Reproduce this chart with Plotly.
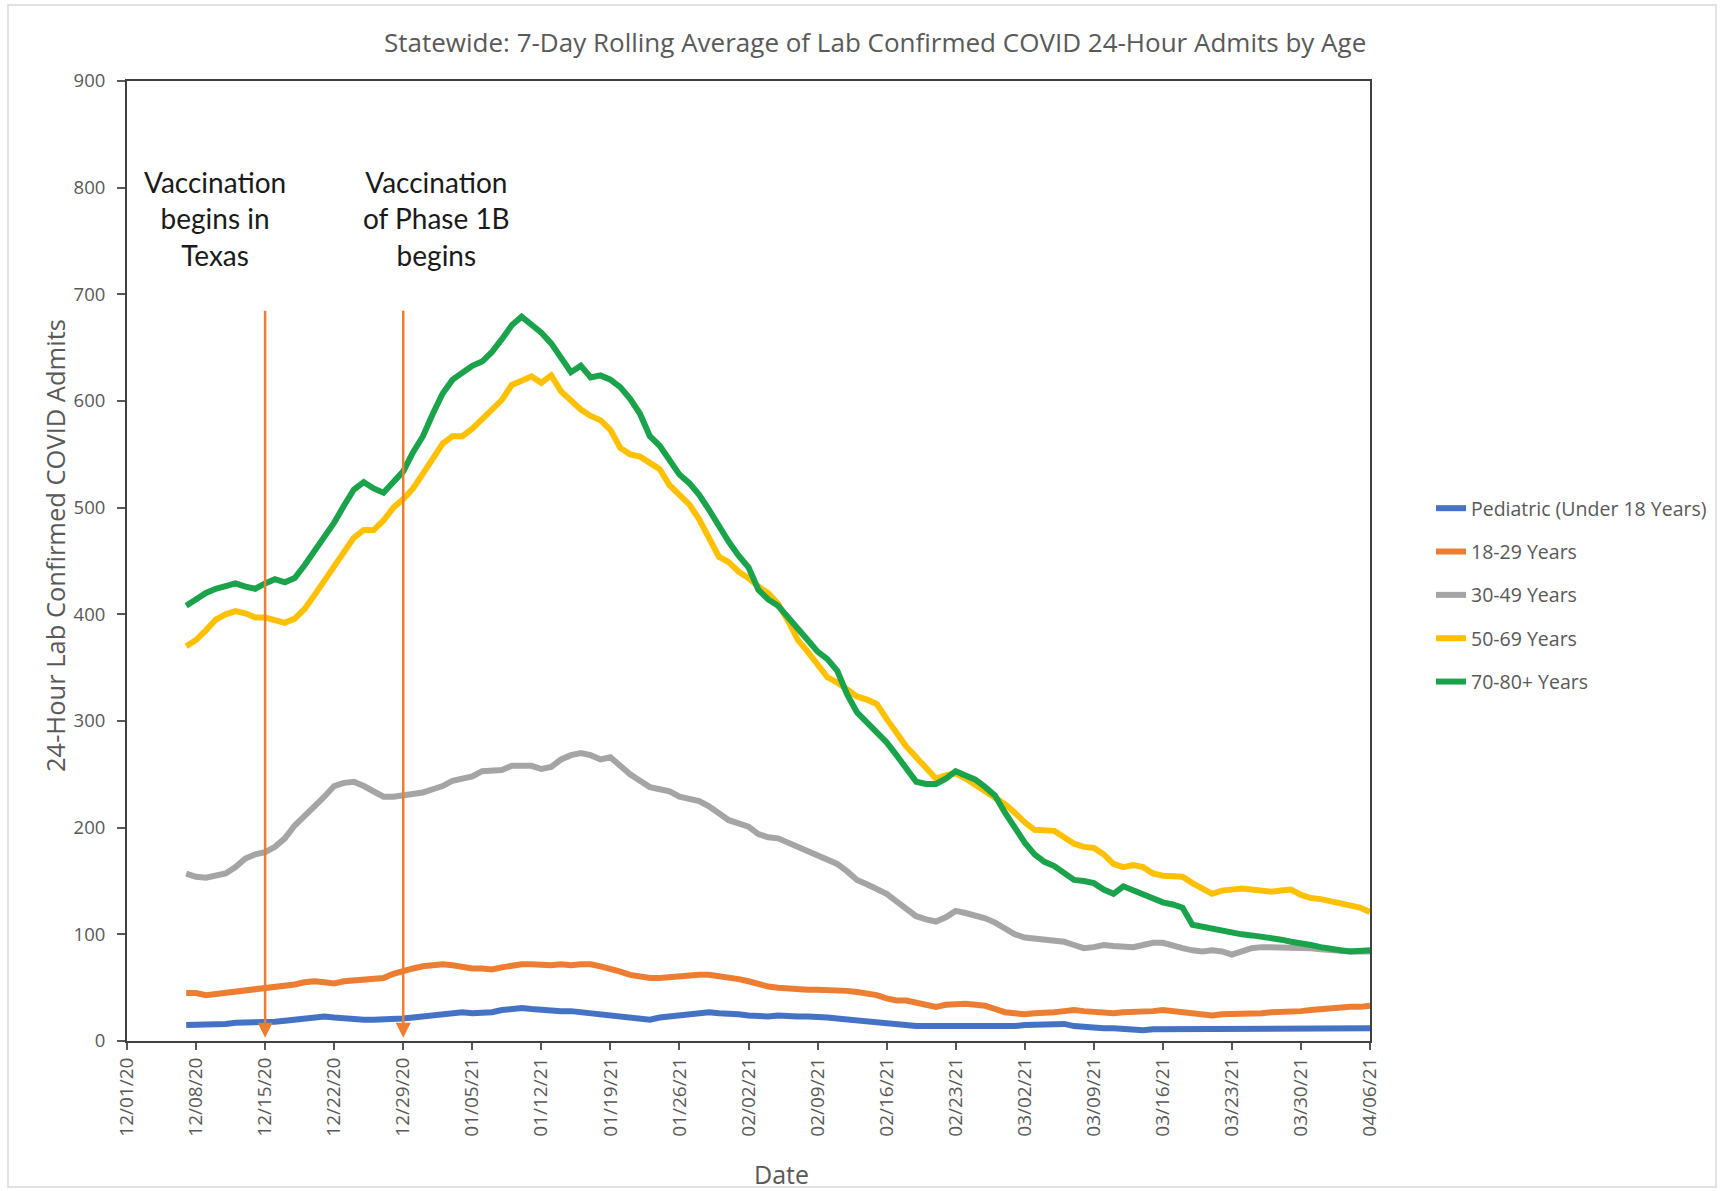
import plotly.graph_objects as go
import pandas as pd

# ---------------- data ----------------
first_date = "2020-12-07"
last_date = "2021-04-06"
dates = pd.date_range(first_date, last_date, freq="D").strftime("%Y-%m-%d").tolist()

series_names = ["Pediatric (Under 18 Years)", "18-29 Years", "30-49 Years", "50-69 Years", "70-80+ Years"]

pediatric = [15, 15, 16, 16, 16, 17, 17, 17, 17, 18,
             19, 20, 21, 22, 23, 22, 21, 21, 20, 20,
             20, 20, 21, 22, 23, 24, 25, 26, 27, 26,
             26, 27, 29, 30, 31, 30, 29, 29, 28, 28,
             27, 26, 25, 24, 23, 21, 20, 20, 22, 23,
             25, 26, 27, 27, 26, 26, 25, 24, 23, 23,
             24, 23, 23, 23, 23, 22, 21, 20, 19, 19,
             18, 17, 15, 14, 14, 14, 14, 14, 14, 14,
             14, 13, 13, 14, 14, 15, 15, 15, 15, 16,
             14, 13, 12, 12, 12, 11, 11, 10, 11, 11,
             12, 12, 12, 12, 12, 12, 12, 12, 12, 12,
             12, 12, 12, 12, 12, 12, 12, 12, 12, 12,
             12]

age_18_29 = [45, 45, 43, 44, 46, 47, 47, 48, 50, 51,
             52, 53, 55, 56, 55, 54, 56, 57, 58, 59,
             59, 63, 66, 68, 70, 71, 72, 71, 69, 68,
             68, 67, 69, 71, 72, 72, 71, 71, 72, 71,
             72, 72, 70, 68, 65, 62, 60, 59, 59, 60,
             61, 62, 62, 62, 61, 60, 58, 56, 53, 51,
             50, 49, 48, 48, 48, 48, 47, 47, 46, 45,
             43, 40, 38, 38, 36, 34, 32, 34, 35, 35,
             34, 33, 30, 27, 26, 25, 26, 26, 27, 28,
             29, 28, 27, 27, 26, 27, 27, 27, 28, 29,
             28, 27, 26, 25, 24, 25, 25, 26, 26, 26,
             27, 27, 28, 28, 29, 30, 31, 31, 32, 32,
             33]

age_30_49 = [157, 154, 153, 155, 157, 163, 171, 175, 177, 182,
             190, 202, 212, 220, 229, 239, 242, 243, 239, 234,
             229, 229, 230, 232, 233, 236, 239, 244, 246, 248,
             253, 253, 254, 258, 258, 258, 255, 257, 264, 268,
             270, 268, 264, 266, 258, 250, 244, 238, 236, 234,
             229, 227, 225, 220, 214, 207, 204, 201, 194, 191,
             190, 186, 182, 178, 174, 170, 166, 159, 151, 147,
             143, 138, 131, 124, 117, 114, 112, 116, 122, 120,
             118, 115, 111, 106, 100, 97, 96, 96, 94, 93,
             90, 87, 88, 90, 89, 88, 88, 90, 92, 92,
             89, 87, 85, 84, 85, 84, 81, 84, 87, 88,
             88, 88, 88, 88, 87, 86, 85, 84, 84, 84,
             84]

age_50_69 = [370, 376, 385, 395, 400, 403, 401, 397, 397, 395,
             392, 396, 405, 418, 432, 445, 460, 472, 479, 479,
             488, 500, 508, 518, 532, 545, 560, 567, 567, 574,
             584, 592, 601, 615, 619, 623, 617, 624, 609, 600,
             592, 586, 582, 573, 556, 550, 548, 542, 536, 521,
             512, 503, 489, 470, 454, 449, 440, 434, 426, 420,
             410, 394, 376, 365, 352, 341, 336, 329, 323, 320,
             316, 302, 289, 276, 266, 256, 246, 249, 251, 246,
             240, 235, 228, 222, 214, 205, 198, 197, 197, 191,
             185, 182, 181, 175, 166, 163, 165, 163, 157, 155,
             155, 154, 148, 143, 138, 141, 142, 143, 142, 141,
             140, 141, 142, 137, 134, 133, 131, 129, 128, 125,
             121]

age_70_80 = [408, 414, 420, 424, 426, 429, 426, 424, 429, 433,
             430, 434, 446, 459, 472, 486, 502, 517, 524, 518,
             514, 524, 534, 552, 567, 588, 607, 620, 627, 633,
             637, 646, 658, 671, 679, 672, 664, 654, 641, 627,
             633, 622, 624, 620, 613, 602, 588, 567, 558, 545,
             531, 523, 512, 498, 482, 468, 455, 444, 423, 414,
             408, 398, 387, 376, 365, 358, 347, 325, 308, 299,
             290, 280, 268, 256, 243, 241, 241, 246, 253, 249,
             245, 238, 230, 214, 199, 186, 175, 168, 164, 157,
             151, 150, 148, 142, 138, 145, 141, 138, 134, 130,
             128, 125, 109, 107, 106, 104, 101, 100, 99, 98,
             96, 95, 93, 92, 90, 88, 86, 85, 84, 85,
             85]

series_values = [pediatric, age_18_29, age_30_49, age_50_69, age_70_80]
series_colors = ["#4472C4", "#ED7D31", "#A5A5A5", "#FFC000", "#1AA34A"]

tick_labels = ["12/01/20", "12/08/20", "12/15/20", "12/22/20", "12/29/20", "01/05/21",
               "01/12/21", "01/19/21", "01/26/21", "02/02/21", "02/09/21", "02/16/21",
               "02/23/21", "03/02/21", "03/09/21", "03/16/21", "03/23/21", "03/30/21",
               "04/06/21"]
tick_vals = pd.to_datetime(tick_labels, format="%m/%d/%y").strftime("%Y-%m-%d").tolist()

event_dates = ["2020-12-15", "2020-12-29"]
event_texts = ["Vaccination<br>begins in<br>Texas", "Vaccination<br>of Phase 1B<br>begins"]
event_arrow_top = 686

title_text = "Statewide: 7-Day Rolling Average of Lab Confirmed COVID 24-Hour Admits by Age"
y_title = "24-Hour Lab Confirmed COVID Admits"
x_title = "Date"

# ---------------- layout geometry (pixels) ----------------
W, H = 1721, 1191
ML, MR, MT, MB = 127, 351, 81, 150
PW, PH = W - ML - MR, H - MT - MB


def px_x(p):
    return (p - ML) / PW


def px_y(p):
    return (H - MB - p) / PH


GRAY_TXT = "#595959"

fig = go.Figure()
for name, vals, col in zip(series_names, series_values, series_colors):
    fig.add_trace(go.Scatter(
        x=dates, y=vals, name=name, mode="lines",
        line=dict(color=col, width=6),
        legendgroup=name,
    ))

annotations = []
# arrows
for d in event_dates:
    annotations.append(dict(
        x=d, y=3, xref="x", yref="y",
        ax=d, ay=event_arrow_top, axref="x", ayref="y",
        showarrow=True, text="", arrowhead=2, arrowsize=1.2,
        arrowwidth=2.5, arrowcolor="#ED7D31", standoff=0,
    ))
# event texts
for xp, t in zip([215, 436], event_texts):
    annotations.append(dict(
        x=px_x(xp), y=px_y(218), xref="paper", yref="paper",
        text=t, showarrow=False, xanchor="center", yanchor="middle",
        font=dict(family="Lato", size=28, color="#1a1a1a"), align="center",
    ))
# title
annotations.append(dict(
    x=px_x(875), y=px_y(42), xref="paper", yref="paper", text=title_text,
    showarrow=False, xanchor="center", yanchor="middle",
    font=dict(family="Open Sans", size=26, color=GRAY_TXT),
))
# y title
annotations.append(dict(
    x=px_x(55), y=px_y(546), xref="paper", yref="paper", text=y_title,
    showarrow=False, xanchor="center", yanchor="middle", textangle=-90,
    font=dict(family="Open Sans", size=25.5, color=GRAY_TXT),
))
# x title
annotations.append(dict(
    x=px_x(781), y=px_y(1174), xref="paper", yref="paper", text=x_title,
    showarrow=False, xanchor="center", yanchor="middle",
    font=dict(family="Open Sans", size=25, color=GRAY_TXT),
))

fig.update_layout(
    width=W, height=H,
    margin=dict(l=ML, r=MR, t=MT, b=MB, autoexpand=False),
    paper_bgcolor="white", plot_bgcolor="white",
    showlegend=True,
    legend=dict(
        x=px_x(1431), y=px_y(595), xanchor="left", yanchor="middle",
        font=dict(family="Open Sans", size=19.5, color=GRAY_TXT),
        tracegroupgap=15, bgcolor="rgba(0,0,0,0)", itemwidth=30,
    ),
    annotations=annotations,
    shapes=[dict(
        type="rect", xref="paper", yref="paper",
        x0=px_x(8), x1=px_x(1716), y0=px_y(1187), y1=px_y(5),
        line=dict(color="#D9D9D9", width=1.5), layer="below",
    )],
    xaxis=dict(
        type="date", range=["2020-12-01", "2021-04-06"],
        tickmode="array", tickvals=tick_vals, ticktext=tick_labels,
        tickangle=-90, ticks="outside", ticklen=7, tickwidth=1.5, tickcolor=GRAY_TXT,
        tickfont=dict(family="Open Sans", size=19, color=GRAY_TXT),
        showline=True, linecolor="#404040", linewidth=2, mirror=True,
        showgrid=False, zeroline=False,
    ),
    yaxis=dict(
        range=[0, 900], tick0=0, dtick=100,
        ticks="outside", ticklen=8, tickwidth=1.5, tickcolor=GRAY_TXT,
        tickfont=dict(family="Open Sans", size=18.5, color=GRAY_TXT),
        ticklabelstandoff=8,
        showline=True, linecolor="#404040", linewidth=2, mirror=True,
        showgrid=False, zeroline=False,
    ),
)

fig.write_html("out.html", config={"displayModeBar": False},
               post_script="document.body.style.margin='0';")
